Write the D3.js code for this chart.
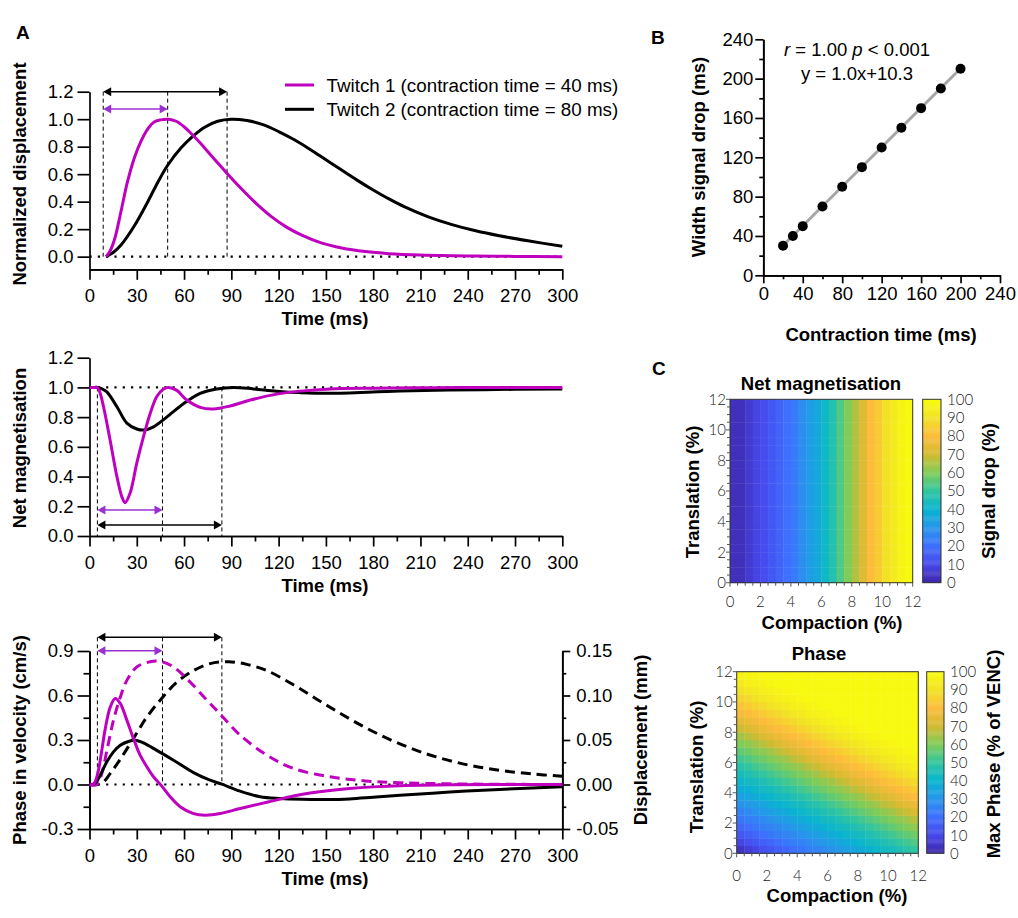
<!DOCTYPE html>
<html>
<head>
<meta charset="utf-8">
<script src="https://d3js.org/d3.v7.min.js"></script>
<style>
body { margin: 0; background: #fff; }
</style>
</head>
<body>
<div id="chart"></div>
<script>

// ---------------- data ----------------
var timeTicks = [0, 30, 60, 90, 120, 150, 180, 210, 240, 270, 300];
var timeMinorTicks = [15, 45, 75, 105, 135, 165, 195, 225, 255, 285];

// A top: normalized displacement
var dispTwitch1Time = [10.5, 13, 16, 20, 24, 28.5, 32.7, 37, 41, 45, 50, 55, 60, 65, 70, 75, 80, 87.3, 95, 105, 115, 125, 135, 147, 160, 175, 190, 210, 240, 270, 300];
var dispTwitch1Value = [0, 0.04, 0.13, 0.33, 0.54, 0.72, 0.84, 0.93, 0.98, 0.995, 1.0, 0.985, 0.945, 0.89, 0.83, 0.765, 0.70, 0.605, 0.51, 0.395, 0.295, 0.215, 0.155, 0.10, 0.063, 0.037, 0.022, 0.012, 0.005, 0.002, 0.0];
var dispTwitch2Time = [10.5, 15, 20, 28.5, 37, 43.3, 49.6, 58, 65.5, 72.8, 81.3, 90, 100, 110, 120, 130, 140, 150, 160, 170, 180, 190, 200, 215, 230, 245, 260, 280, 300];
var dispTwitch2Value = [0, 0.03, 0.085, 0.225, 0.40, 0.54, 0.665, 0.79, 0.875, 0.94, 0.985, 1.0, 0.99, 0.96, 0.91, 0.85, 0.78, 0.705, 0.63, 0.555, 0.485, 0.42, 0.362, 0.29, 0.233, 0.188, 0.152, 0.112, 0.075];
var dispMarkers = [8.7, 49.6, 87.3];

// A middle: net magnetisation
var magTwitch1Time = [0, 3, 5, 6.5, 8.9, 13, 17.4, 20.5, 22.6, 25.8, 30, 34.3, 38.5, 42.8, 47, 50.1, 55.4, 61.7, 70.2, 78.6, 89.2, 102, 118.8, 133.6, 152.6, 180, 220, 260, 300];
var magTwitch1Value = [1, 1, 1, 0.97, 0.87, 0.65, 0.40, 0.265, 0.224, 0.29, 0.49, 0.67, 0.825, 0.94, 0.99, 1.0, 0.98, 0.915, 0.866, 0.855, 0.875, 0.915, 0.955, 0.975, 0.99, 0.995, 0.998, 1.0, 1.0];
var magTwitch2Time = [0, 3, 5, 8, 11, 17.4, 23.7, 30, 34.3, 40.7, 49, 59.6, 70.2, 80.8, 91.3, 104, 118.8, 133.6, 152.6, 197, 250, 300];
var magTwitch2Value = [1, 1, 1, 0.99, 0.97, 0.87, 0.76, 0.72, 0.713, 0.735, 0.80, 0.89, 0.96, 0.99, 1.0, 0.99, 0.975, 0.965, 0.96, 0.976, 0.985, 0.99];
var magMarkers = [5, 46.3, 84];

// A bottom: phase in velocity (cm/s) and displacement (mm)
var velTwitch1Time = [0, 2, 3.6, 5.7, 7.8, 9.9, 13.1, 16.3, 19.5, 23.7, 27.9, 32.1, 36.4, 40.6, 45.9, 51.2, 57.5, 66, 73.4, 82.9, 95.6, 112.5, 129.4, 140, 152.6, 165, 180, 197, 230, 300];
var velTwitch1Value = [0, 0, 0.018, 0.097, 0.23, 0.37, 0.52, 0.58, 0.547, 0.434, 0.31, 0.198, 0.12, 0.052, -0.011, -0.083, -0.15, -0.196, -0.207, -0.196, -0.162, -0.12, -0.078, -0.058, -0.04, -0.027, -0.016, -0.008, -0.002, 0];
var velTwitch2Time = [0, 2, 3.6, 6.8, 11, 15.2, 19.5, 24.7, 29, 34.2, 42.7, 53.3, 66, 76.5, 84, 95.6, 108.2, 121, 135, 150, 165, 180, 197, 228.6, 260, 300];
var velTwitch2Value = [0, 0, 0.007, 0.063, 0.153, 0.22, 0.265, 0.29, 0.298, 0.28, 0.23, 0.164, 0.08, 0.029, 0.002, -0.045, -0.083, -0.095, -0.1, -0.101, -0.097, -0.086, -0.073, -0.051, -0.033, -0.016];
var posTwitch1Time = [0, 4.7, 7.8, 11, 15.2, 19.5, 23.7, 30, 38.5, 45.9, 53.3, 61.7, 74.4, 84, 95.6, 112.5, 129.4, 152.6, 175, 197, 230, 300];
var posTwitch1Value = [0, 0, 0.0123, 0.038, 0.072, 0.098, 0.117, 0.132, 0.138, 0.138, 0.132, 0.119, 0.095, 0.077, 0.0555, 0.033, 0.018, 0.0087, 0.004, 0.002, 0.0007, 0];
var posTwitch2Time = [0, 4.7, 8.9, 13.1, 19.5, 27.9, 36.4, 46.3, 55.4, 66, 76.5, 88.2, 99.8, 112.5, 129.4, 145, 160, 175, 190, 205, 220, 240, 260, 280, 300];
var posTwitch2Value = [0, 0, 0.003, 0.0123, 0.0283, 0.0517, 0.0758, 0.0978, 0.115, 0.128, 0.1358, 0.138, 0.135, 0.128, 0.112, 0.095, 0.079, 0.064, 0.051, 0.04, 0.031, 0.022, 0.016, 0.012, 0.0093];
var velMarkers = [5, 46.3, 84];

// B: width of signal drop vs contraction time
var contractionTime = [20, 30, 40, 60, 80, 100, 120, 140, 160, 180, 200];
var widthSignalDrop = [30, 40, 50, 70, 90, 110, 130, 150, 170, 190, 210];
var fitSlope = 1.0, fitIntercept = 10.3;
var bTicks = [0, 40, 80, 120, 160, 200, 240];
var bMinorTicks = [20, 60, 100, 140, 180, 220];

// C: heatmaps (24 x 24 cells, 0.5 % steps)
var heatTicks = [0, 2, 4, 6, 8, 10, 12];
var barTicks = [0, 10, 20, 30, 40, 50, 60, 70, 80, 90, 100];
// net magnetisation signal drop (%) per compaction column, same for every translation row
var netMagColumns = [3, 3, 6, 9, 11, 14, 17, 20, 23, 28, 32, 36, 42, 47, 54, 60, 66, 73, 80, 84, 90, 93, 97, 99];
// max phase (% of VENC); row 0 = translation 0-0.5 %, column 0 = compaction 0-0.5 %
var phaseRows = [
  [4, 7, 9, 12, 14, 16, 18, 20, 22, 24, 25, 27, 29, 31, 33, 35, 37, 39, 41, 43, 44, 46, 48, 50],
  [9, 12, 14, 16, 18, 20, 22, 24, 25, 27, 29, 31, 33, 35, 37, 39, 41, 43, 44, 46, 48, 50, 52, 54],
  [14, 16, 18, 20, 22, 24, 25, 27, 29, 31, 33, 35, 37, 39, 41, 43, 44, 46, 48, 50, 52, 54, 56, 58],
  [18, 20, 22, 24, 25, 27, 29, 31, 33, 35, 37, 39, 41, 43, 44, 46, 48, 50, 52, 54, 56, 58, 60, 62],
  [22, 24, 25, 27, 29, 31, 33, 35, 37, 39, 41, 43, 44, 46, 48, 50, 52, 54, 56, 58, 60, 62, 64, 67],
  [25, 27, 29, 31, 33, 35, 37, 39, 41, 43, 44, 46, 48, 50, 52, 54, 56, 58, 60, 62, 64, 67, 69, 72],
  [29, 31, 33, 35, 37, 39, 41, 43, 44, 46, 48, 50, 52, 54, 56, 58, 60, 62, 64, 67, 69, 72, 74, 76],
  [33, 35, 37, 39, 41, 43, 44, 46, 48, 50, 52, 54, 56, 58, 60, 62, 64, 67, 69, 72, 74, 76, 78, 80],
  [37, 39, 41, 43, 44, 46, 48, 50, 52, 54, 56, 58, 60, 62, 64, 67, 69, 72, 74, 76, 78, 80, 82, 84],
  [41, 43, 44, 46, 48, 50, 52, 54, 56, 58, 60, 62, 64, 67, 69, 72, 74, 76, 78, 80, 82, 84, 86, 88],
  [44, 46, 48, 50, 52, 54, 56, 58, 60, 62, 64, 67, 69, 72, 74, 76, 78, 80, 82, 84, 86, 88, 90, 92],
  [48, 50, 52, 54, 56, 58, 60, 62, 64, 67, 69, 72, 74, 76, 78, 80, 82, 84, 86, 88, 90, 92, 93, 95],
  [52, 54, 56, 58, 60, 62, 64, 67, 69, 72, 74, 76, 78, 80, 82, 84, 86, 88, 90, 92, 93, 95, 96, 97],
  [56, 58, 60, 62, 64, 67, 69, 72, 74, 76, 78, 80, 82, 84, 86, 88, 90, 92, 93, 95, 96, 97, 98, 99],
  [60, 62, 64, 67, 69, 72, 74, 76, 78, 80, 82, 84, 86, 88, 90, 92, 93, 95, 96, 97, 98, 99, 99, 99],
  [64, 67, 69, 72, 74, 76, 78, 80, 82, 84, 86, 88, 90, 92, 93, 95, 96, 97, 98, 99, 99, 99, 99, 99],
  [69, 72, 74, 76, 78, 80, 82, 84, 86, 88, 90, 92, 93, 95, 96, 97, 98, 99, 99, 99, 99, 99, 99, 99],
  [74, 76, 78, 80, 82, 84, 86, 88, 90, 92, 93, 95, 96, 97, 98, 99, 99, 99, 99, 99, 99, 99, 99, 99],
  [78, 80, 82, 84, 86, 88, 90, 92, 93, 95, 96, 97, 98, 99, 99, 99, 99, 99, 99, 99, 99, 99, 99, 99],
  [82, 84, 86, 88, 90, 92, 93, 95, 96, 97, 98, 99, 99, 99, 99, 99, 99, 99, 99, 99, 99, 99, 99, 99],
  [86, 88, 90, 92, 93, 95, 96, 97, 98, 99, 99, 99, 99, 99, 99, 99, 99, 99, 99, 99, 99, 99, 99, 99],
  [90, 92, 93, 95, 96, 97, 98, 99, 99, 99, 99, 99, 99, 99, 99, 99, 99, 99, 99, 99, 99, 99, 99, 99],
  [93, 95, 96, 97, 98, 99, 99, 99, 99, 99, 99, 99, 99, 99, 99, 99, 99, 99, 99, 99, 99, 99, 99, 99],
  [96, 97, 98, 99, 99, 99, 99, 99, 99, 99, 99, 99, 99, 99, 99, 99, 99, 99, 99, 99, 99, 99, 99, 99]
];

// ---------------- setup ----------------
var W = 1018, H = 918;
var FONT = "'Liberation Sans', Arial, sans-serif";
var THIN = "Lato, 'DejaVu Sans', sans-serif";
var MAGENTA = "#bf00bf", PURPLE = "#9b30d0";

var svg = d3.select("#chart").append("svg")
    .attr("width", W)
    .attr("height", H);
svg.append("rect").attr("width", W).attr("height", H).attr("fill", "#fff");

function pairs(ts, vs) {
    return ts.map(function (t, i) { return [t, vs[i]]; });
}

function styleAxis(g, size) {
    g.select(".domain").attr("stroke", "#000").attr("stroke-width", 1.7);
    g.selectAll(".tick line").attr("stroke", "#000").attr("stroke-width", 1.7);
    g.selectAll(".tick text")
        .attr("font-family", FONT)
        .attr("font-size", size || 18.5)
        .attr("fill", "#000");
}

function label(txt, x, y, opts) {
    opts = opts || {};
    var t = svg.append("text")
        .attr("font-family", opts.family || FONT)
        .attr("font-size", opts.size || 18.5)
        .attr("font-weight", opts.weight || "bold")
        .attr("text-anchor", opts.anchor || "middle")
        .attr("fill", "#000")
        .text(txt);
    if (opts.rotate) {
        t.attr("transform", "translate(" + x + "," + y + ") rotate(-90)");
    } else {
        t.attr("x", x).attr("y", y);
    }
    return t;
}

var xTime = d3.scaleLinear().domain([0, 300]).range([89.5, 562.3]);

function timeAxis(axisY) {
    var gm = svg.append("g").attr("transform", "translate(0," + axisY + ")")
        .call(d3.axisBottom(xTime).tickValues(timeMinorTicks).tickSize(5.5).tickSizeOuter(0).tickFormat(""));
    styleAxis(gm);
    var g = svg.append("g").attr("transform", "translate(0," + axisY + ")")
        .call(d3.axisBottom(xTime).tickValues(timeTicks).tickSize(10.5).tickSizeOuter(0).tickPadding(9));
    styleAxis(g);
    label("Time (ms)", 325, axisY + 56);
}

function leftAxis(y, ticks, minor, fmt) {
    if (minor) {
        var gm = svg.append("g").attr("transform", "translate(89.5,0)")
            .call(d3.axisLeft(y).tickValues(minor).tickSize(6).tickSizeOuter(0).tickFormat(""));
        styleAxis(gm);
    }
    var g = svg.append("g").attr("transform", "translate(89.5,0)")
        .call(d3.axisLeft(y).tickValues(ticks).tickSize(12).tickSizeOuter(0).tickPadding(4)
            .tickFormat(function (d) { return d.toFixed(fmt); }));
    styleAxis(g);
}

function curve(x, y, ts, vs, color, dash) {
    var line = d3.line()
        .x(function (d) { return x(d[0]); })
        .y(function (d) { return y(d[1]); })
        .curve(d3.curveCatmullRom.alpha(0.5));
    svg.append("path")
        .datum(pairs(ts, vs))
        .attr("d", line)
        .attr("fill", "none")
        .attr("stroke", color)
        .attr("stroke-width", 3)
        .attr("stroke-dasharray", dash || null)
        .attr("stroke-linejoin", "round");
}

function dottedLevel(y, level) {
    svg.append("line")
        .attr("x1", xTime(0)).attr("x2", xTime(300))
        .attr("y1", y(level)).attr("y2", y(level))
        .attr("stroke", "#000").attr("stroke-width", 2.2)
        .attr("stroke-dasharray", "2.2,6.1");
}

function markerLines(ts, yTop, yBottom) {
    ts.forEach(function (t) {
        svg.append("line")
            .attr("x1", xTime(t)).attr("x2", xTime(t))
            .attr("y1", yTop).attr("y2", yBottom)
            .attr("stroke", "#000").attr("stroke-width", 1)
            .attr("stroke-dasharray", "4,3");
    });
}

function arrow(t1, t2, yPix, color) {
    var x1 = xTime(t1), x2 = xTime(t2), hl = 8, hw = 4.5;
    svg.append("line")
        .attr("x1", x1 + 2).attr("x2", x2 - 2)
        .attr("y1", yPix).attr("y2", yPix)
        .attr("stroke", color).attr("stroke-width", 1.6);
    svg.append("path")
        .attr("d", "M" + x1 + "," + yPix + "L" + (x1 + hl) + "," + (yPix - hw) + "L" + (x1 + hl) + "," + (yPix + hw) + "Z")
        .attr("fill", color);
    svg.append("path")
        .attr("d", "M" + x2 + "," + yPix + "L" + (x2 - hl) + "," + (yPix - hw) + "L" + (x2 - hl) + "," + (yPix + hw) + "Z")
        .attr("fill", color);
}

// panel letters
label("A", 16, 38.5, { anchor: "start", size: 19 });
label("B", 651, 44, { anchor: "start", size: 19 });
label("C", 652, 375, { anchor: "start", size: 19 });

// ---------------- A top ----------------
var yDisp = d3.scaleLinear().domain([-0.092, 1.2]).range([269.3, 91.7]);
timeAxis(269.3);
leftAxis(yDisp, [0, 0.2, 0.4, 0.6, 0.8, 1.0, 1.2], null, 1);
label("Normalized displacement", 26, 174, { rotate: true });
dottedLevel(yDisp, 0);
markerLines(dispMarkers, 91.7, yDisp(0));
curve(xTime, yDisp, dispTwitch2Time, dispTwitch2Value, "#000");
curve(xTime, yDisp, dispTwitch1Time, dispTwitch1Value, MAGENTA);
arrow(dispMarkers[0], dispMarkers[2], 91.7, "#000");
arrow(dispMarkers[0], dispMarkers[1], 109, PURPLE);

// legend
var legendItems = [
    { name: "Twitch 1 (contraction time = 40 ms)", color: MAGENTA, y: 85 },
    { name: "Twitch 2 (contraction time = 80 ms)", color: "#000", y: 109.3 }
];
legendItems.forEach(function (d) {
    svg.append("line")
        .attr("x1", 285).attr("x2", 314).attr("y1", d.y).attr("y2", d.y)
        .attr("stroke", d.color).attr("stroke-width", 3);
    label(d.name, 326.5, d.y + 6.5, { anchor: "start", weight: "normal", size: 18.8 });
});

// ---------------- A middle ----------------
var yMag = d3.scaleLinear().domain([0, 1.2]).range([536, 357.7]);
timeAxis(536);
leftAxis(yMag, [0, 0.2, 0.4, 0.6, 0.8, 1.0, 1.2], null, 1);
label("Net magnetisation", 26, 448, { rotate: true });
dottedLevel(yMag, 1.0);
markerLines(magMarkers, yMag(1.0), 536);
curve(xTime, yMag, magTwitch2Time, magTwitch2Value, "#000");
curve(xTime, yMag, magTwitch1Time, magTwitch1Value, MAGENTA);
arrow(magMarkers[0], magMarkers[1], 510, PURPLE);
arrow(magMarkers[0], magMarkers[2], 525, "#000");

// ---------------- A bottom ----------------
var yVel = d3.scaleLinear().domain([-0.3, 0.9]).range([829, 651]);
var yPos = d3.scaleLinear().domain([-0.05, 0.15]).range([829, 651]);
timeAxis(829);
leftAxis(yVel, [-0.3, 0, 0.3, 0.6, 0.9], [-0.15, 0.15, 0.45, 0.75], 1);
var grm = svg.append("g").attr("transform", "translate(562.3,0)")
    .call(d3.axisRight(yPos).tickValues([-0.025, 0.025, 0.075, 0.125]).tickSize(4).tickSizeOuter(0).tickFormat(""));
styleAxis(grm);
var gr = svg.append("g").attr("transform", "translate(562.3,0)")
    .call(d3.axisRight(yPos).tickValues([-0.05, 0, 0.05, 0.1, 0.15]).tickSize(8).tickSizeOuter(0).tickPadding(6)
        .tickFormat(function (d) { return d.toFixed(2); }));
styleAxis(gr);
label("Phase in velocity (cm/s)", 26, 740, { rotate: true });
label("Displacement (mm)", 647, 740, { rotate: true });
dottedLevel(yVel, 0);
markerLines(velMarkers, 637.3, yVel(0));
curve(xTime, yPos, posTwitch2Time, posTwitch2Value, "#000", "10,6");
curve(xTime, yPos, posTwitch1Time, posTwitch1Value, MAGENTA, "10,6");
curve(xTime, yVel, velTwitch2Time, velTwitch2Value, "#000");
curve(xTime, yVel, velTwitch1Time, velTwitch1Value, MAGENTA);
arrow(velMarkers[0], velMarkers[2], 637.3, "#000");
arrow(velMarkers[0], velMarkers[1], 650.7, PURPLE);

// ---------------- B ----------------
var xB = d3.scaleLinear().domain([0, 240]).range([763.3, 1000]);
var yB = d3.scaleLinear().domain([0, 240]).range([275.3, 39.3]);
var gbxm = svg.append("g").attr("transform", "translate(0,275.3)")
    .call(d3.axisBottom(xB).tickValues(bMinorTicks).tickSize(4).tickSizeOuter(0).tickFormat(""));
styleAxis(gbxm);
var gbx = svg.append("g").attr("transform", "translate(0,275.3)")
    .call(d3.axisBottom(xB).tickValues(bTicks).tickSize(8).tickSizeOuter(0).tickPadding(4));
styleAxis(gbx);
var gbym = svg.append("g").attr("transform", "translate(763.3,0)")
    .call(d3.axisLeft(yB).tickValues(bMinorTicks).tickSize(4).tickSizeOuter(0).tickFormat(""));
styleAxis(gbym);
var gby = svg.append("g").attr("transform", "translate(763.3,0)")
    .call(d3.axisLeft(yB).tickValues(bTicks).tickSize(8).tickSizeOuter(0).tickPadding(2));
styleAxis(gby);

var xFit = d3.extent(contractionTime);
svg.append("line")
    .attr("x1", xB(xFit[0])).attr("y1", yB(fitSlope * xFit[0] + fitIntercept))
    .attr("x2", xB(xFit[1])).attr("y2", yB(fitSlope * xFit[1] + fitIntercept))
    .attr("stroke", "#a6a6a6").attr("stroke-width", 3);
svg.selectAll("circle.pt")
    .data(contractionTime)
    .enter().append("circle")
    .attr("class", "pt")
    .attr("cx", function (d) { return xB(d); })
    .attr("cy", function (d, i) { return yB(widthSignalDrop[i]); })
    .attr("r", 5)
    .attr("fill", "#000");

var stat = svg.append("text")
    .attr("x", 857).attr("y", 55.5)
    .attr("text-anchor", "middle")
    .attr("font-family", FONT).attr("font-size", 18.5);
stat.append("tspan").attr("font-style", "italic").text("r");
stat.append("tspan").text(" = 1.00 ");
stat.append("tspan").attr("font-style", "italic").text("p");
stat.append("tspan").text(" < 0.001");
label("y = " + fitSlope.toFixed(1) + "x+" + fitIntercept.toFixed(1), 857, 79.5, { weight: "normal" });
label("Width signal drop (ms)", 705, 157, { rotate: true });
label("Contraction time (ms)", 881, 341);

// ---------------- C ----------------
var parula = d3.scaleLinear()
    .domain([0, 10, 20, 30, 40, 50, 60, 70, 80, 90, 100])
    .range(["#3e26a8", "#4748eb", "#3e6ffe", "#2796eb", "#08b4d0", "#31c69f", "#80cc59", "#d2bb30", "#fdbc3c", "#f2e226", "#f9fb0e"])
    .interpolate(d3.interpolateRgb)
    .clamp(true);

function heatmap(cfg) {
    var xs = d3.scaleLinear().domain([0, 12]).range([cfg.x0, cfg.x1]);
    var ys = d3.scaleLinear().domain([0, 12]).range([cfg.y1, cfg.y0]);
    var cells = [];
    for (var r = 0; r < 24; r++) {
        for (var c = 0; c < 24; c++) {
            cells.push({ r: r, c: c, v: cfg.value(r, c) });
        }
    }
    var g = svg.append("g");
    g.selectAll("rect")
        .data(cells)
        .enter().append("rect")
        .attr("x", function (d) { return xs(d.c * 0.5); })
        .attr("y", function (d) { return ys((d.r + 1) * 0.5); })
        .attr("width", xs(0.5) - xs(0) + 0.4)
        .attr("height", ys(0) - ys(0.5) + 0.4)
        .attr("fill", function (d) { return parula(d.v); });
    svg.append("rect")
        .attr("x", cfg.x0).attr("y", cfg.y0)
        .attr("width", cfg.x1 - cfg.x0).attr("height", cfg.y1 - cfg.y0)
        .attr("fill", "none").attr("stroke", "#333").attr("stroke-width", 1);

    // ticks every 0.5 %, labels every 2 %
    var minor = d3.range(0, 12.01, 0.5);
    minor.forEach(function (v) {
        var major = (v % 2 === 0);
        var len = major ? 4 : 3;
        svg.append("line")
            .attr("x1", cfg.x0 - len).attr("x2", cfg.x0)
            .attr("y1", ys(v)).attr("y2", ys(v))
            .attr("stroke", "#555").attr("stroke-width", 1);
        svg.append("line")
            .attr("x1", xs(v)).attr("x2", xs(v))
            .attr("y1", cfg.y1).attr("y2", cfg.y1 + len)
            .attr("stroke", "#555").attr("stroke-width", 1);
    });
    heatTicks.forEach(function (v) {
        svg.append("text")
            .attr("x", cfg.x0 - 4).attr("y", ys(v)).attr("dy", "0.36em")
            .attr("text-anchor", "end")
            .attr("font-family", THIN).attr("font-weight", 300).attr("font-size", 15).attr("fill", "#222")
            .text(v);
        svg.append("text")
            .attr("x", xs(v)).attr("y", cfg.tickBase)
            .attr("text-anchor", "middle")
            .attr("font-family", THIN).attr("font-weight", 300).attr("font-size", 15).attr("fill", "#222")
            .text(v);
    });

    // colour bar
    var yc = d3.scaleLinear().domain([0, 100]).range([cfg.y1, cfg.y0]);
    var steps = d3.range(0, 100, 0.5);
    svg.append("g").selectAll("rect")
        .data(steps)
        .enter().append("rect")
        .attr("x", cfg.cb0)
        .attr("y", function (d) { return yc(d + 0.5) - 0.2; })
        .attr("width", cfg.cb1 - cfg.cb0)
        .attr("height", yc(0) - yc(0.5) + 0.4)
        .attr("fill", function (d) { return parula(d + 0.25); });
    svg.append("rect")
        .attr("x", cfg.cb0).attr("y", cfg.y0)
        .attr("width", cfg.cb1 - cfg.cb0).attr("height", cfg.y1 - cfg.y0)
        .attr("fill", "none").attr("stroke", "#333").attr("stroke-width", 1);
    barTicks.forEach(function (v) {
        svg.append("text")
            .attr("x", cfg.cb1 + 6).attr("y", yc(v)).attr("dy", "0.36em")
            .attr("font-family", THIN).attr("font-weight", 300).attr("font-size", 15).attr("fill", "#222")
            .text(v);
    });

    label(cfg.title, cfg.titleX, cfg.titleY);
    label("Compaction (%)", cfg.xLabelX, cfg.xLabelY);
    label("Translation (%)", cfg.yLabelX, cfg.yLabelY, { rotate: true });
    label(cfg.barLabel, cfg.barLabelX, cfg.barLabelY, { rotate: true });
}

heatmap({
    x0: 730, x1: 912.7, y0: 399.3, y1: 582.7, cb0: 922.7, cb1: 941,
    value: function (r, c) { return netMagColumns[c]; },
    tickBase: 607,
    title: "Net magnetisation", titleX: 821, titleY: 389.5,
    xLabelX: 832, xLabelY: 629,
    yLabelX: 699, yLabelY: 492,
    barLabel: "Signal drop (%)", barLabelX: 995, barLabelY: 491
});

heatmap({
    x0: 736.7, x1: 918.3, y0: 671.7, y1: 853.3, cb0: 926.7, cb1: 944,
    value: function (r, c) { return phaseRows[r][c]; },
    tickBase: 880.5,
    title: "Phase", titleX: 819, titleY: 660,
    xLabelX: 837, xLabelY: 902,
    yLabelX: 703, yLabelY: 767,
    barLabel: "Max Phase (% of VENC)", barLabelX: 1000, barLabelY: 754
});

</script>
</body>
</html>
